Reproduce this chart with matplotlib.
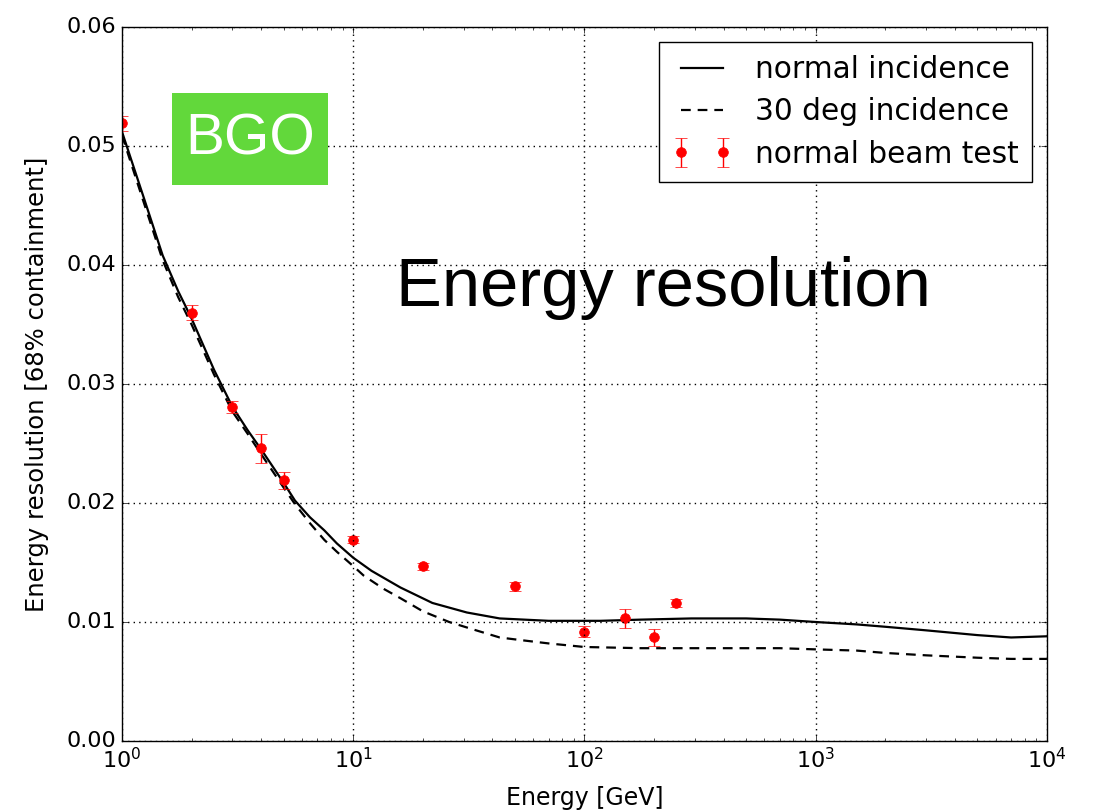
import matplotlib
matplotlib.use("Agg")
import matplotlib.pyplot as plt
from matplotlib.patches import Rectangle

# beam test points: energy [GeV], resolution, error
beam_energy = [1, 2, 3, 4, 5, 10, 20, 50, 100, 150, 200, 250]
beam_res = [0.0519, 0.0360, 0.0281, 0.0246, 0.0219, 0.0169, 0.0147, 0.0130,
            0.0092, 0.0103, 0.0087, 0.0116]
beam_err = [0.0006, 0.0006, 0.0005, 0.0012, 0.0007, 0.0003, 0.0003, 0.0004,
            0.0005, 0.0008, 0.0007, 0.0003]

# simulated curves
normal_energy = [1, 1.25, 1.5, 1.75, 2, 2.5, 3, 3.5, 4, 5, 5.6, 6.5, 7.5, 8.5,
                 10, 12, 16, 22, 31, 43, 70, 117, 175, 290, 500, 700, 1000,
                 1500, 2000, 3000, 5000, 7000, 10000]
normal_res = [0.0512, 0.0455, 0.0408, 0.0378, 0.0355, 0.0312, 0.0281, 0.0261,
              0.0245, 0.0217, 0.0202, 0.0188, 0.0177, 0.0166, 0.0154, 0.0143,
              0.0129, 0.0116, 0.0108, 0.0103, 0.0101, 0.0101, 0.0102, 0.0103,
              0.0103, 0.0102, 0.0100, 0.0098, 0.0096, 0.0093, 0.0089, 0.0087,
              0.0088]
deg30_energy = [1, 1.25, 1.5, 1.75, 2, 2.5, 3, 3.5, 4, 5, 5.6, 6.5, 7.5, 8.5,
                10, 11.1, 13.5, 16, 20, 26, 34, 43, 52, 70, 100, 175, 290,
                500, 700, 1000, 1500, 2000, 3000, 5000, 7000, 10000]
deg30_res = [0.0509, 0.0451, 0.0404, 0.0373, 0.0350, 0.0308, 0.0277, 0.0258,
             0.0241, 0.0213, 0.0199, 0.0183, 0.0169, 0.0159, 0.0147, 0.0139,
             0.0128, 0.0120, 0.0109, 0.0100, 0.0093, 0.0087, 0.0085, 0.0082,
             0.0079, 0.0078, 0.0078, 0.0078, 0.0078, 0.0077, 0.0076, 0.0074,
             0.0072, 0.0070, 0.0069, 0.0069]

plt.style.use("classic")
plt.rcParams["font.family"] = ["DejaVu Sans"]

fig = plt.figure(figsize=(10.94, 8.11), dpi=100, facecolor="white")
ax = fig.add_axes([0.1115, 0.0863, 0.8455, 0.8804])

ax.plot(normal_energy, normal_res, "k-", lw=1.6, label="normal incidence")
ax.plot(deg30_energy, deg30_res, "k--", lw=1.6, dashes=(7, 5),
        label="30 deg incidence")
ax.errorbar(beam_energy, beam_res, yerr=beam_err, fmt="o", color="red",
            mec="red", ms=7, capsize=4.5, elinewidth=1,
            label="normal beam test")

ax.set_xscale("log")
ax.set_xlim(1, 1e4)
ax.set_ylim(0, 0.06)
ax.set_yticks([0.00, 0.01, 0.02, 0.03, 0.04, 0.05, 0.06])
ax.yaxis.set_major_formatter(matplotlib.ticker.FormatStrFormatter("%.2f"))
ax.grid(True, which="major", ls=":", color="k", lw=1)
ax.tick_params(labelsize=16)

ax.set_xlabel("Energy [GeV]", fontsize=17, labelpad=10)
ax.set_ylabel("Energy resolution [68% containment]", fontsize=17.5,
              labelpad=13)

ax.legend(loc="upper right", numpoints=2, fontsize=21.3, frameon=True,
          fancybox=False, borderaxespad=0.5, handlelength=2.0,
          handletextpad=0.8, labelspacing=0.45, borderpad=0.45)

# green BGO tag
ax.add_patch(Rectangle((0.0541, 0.7787), 0.1686, 0.1289,
                       transform=ax.transAxes, fc="#62d83b", ec="none",
                       zorder=3))
ax.text(0.1384, 0.843, "BGO", transform=ax.transAxes, fontsize=42,
        color="white", family="Liberation Sans", va="center", ha="center",
        zorder=4)
ax.text(0.296, 0.634, "Energy resolution", transform=ax.transAxes,
        fontsize=49.5, family="Liberation Sans", va="center", ha="left")

fig.savefig("out.png", dpi=100, facecolor="white")
